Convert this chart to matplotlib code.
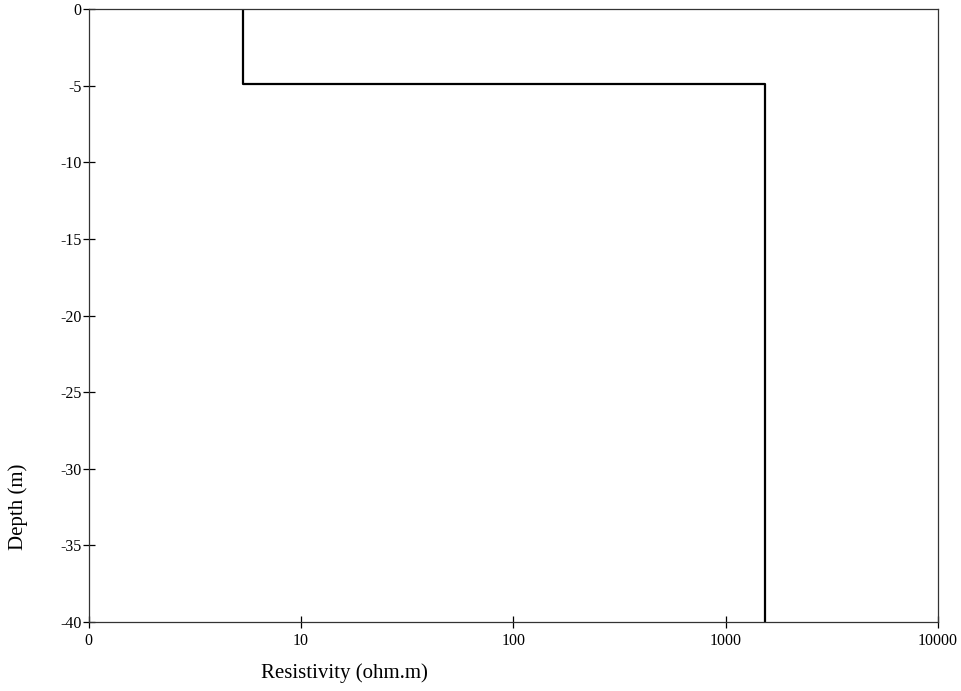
import matplotlib
matplotlib.use("Agg")
import matplotlib.pyplot as plt

# Layered model data
resistivity = [5.36, 5.36, 1540, 1540]
depth = [0, -4.87, -4.87, -40]

x_ticks = [1, 10, 100, 1000, 10000]
x_labels = ["0", "10", "100", "1000", "10000"]
y_ticks = [0, -5, -10, -15, -20, -25, -30, -35, -40]
y_labels = ["0", "-5", "-10", "-15", "-20", "-25", "-30", "-35", "-40"]

plt.rcParams['font.family'] = ['Liberation Serif', 'DejaVu Serif']

W, H = 961, 691
fig = plt.figure(figsize=(W / 100, H / 100), dpi=100)
ax = fig.add_axes([88.5 / W, 1 - 622 / H, 849.5 / W, 613 / H])

ax.plot(resistivity, depth, color='black', linewidth=1.6)
ax.set_xscale('log')
ax.set_xlim(1, 10000)
ax.set_ylim(-40, 0)
ax.set_xticks(x_ticks)
ax.set_xticklabels(x_labels)
ax.xaxis.set_minor_locator(matplotlib.ticker.NullLocator())
ax.set_yticks(y_ticks)
ax.set_yticklabels(y_labels)

ax.tick_params(axis='both', direction='inout', length=8, width=0.9, labelsize=11.5)
ax.tick_params(axis='x', pad=4)
ax.tick_params(axis='y', pad=1)
for s in ax.spines.values():
    s.set_linewidth(0.9)
    s.set_color('#333333')

fig.text(344 / W, 1 - 673 / H, "Resistivity (ohm.m)", fontsize=15,
         ha='center', va='center')
fig.text(18 / W, 1 - 507 / H, "Depth (m)", fontsize=15, rotation=90,
         ha='center', va='center')

fig.savefig("out.png", dpi=100)
